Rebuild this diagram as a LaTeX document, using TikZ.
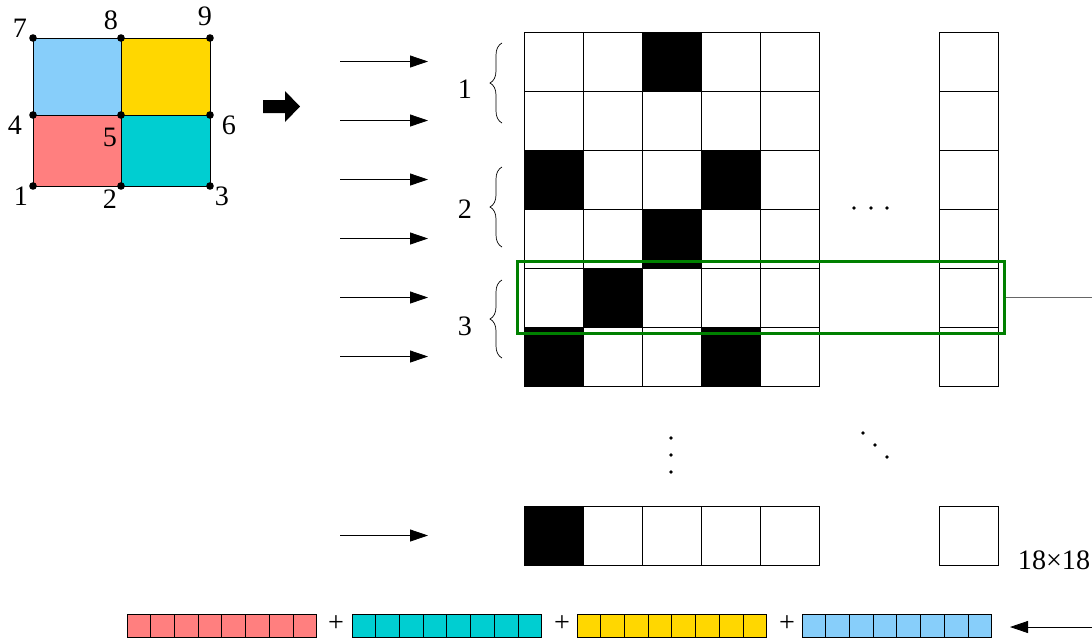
\documentclass[tikz,border=0pt]{standalone}
\usepackage{fontspec}
\setmainfont{Liberation Serif}
\usetikzlibrary{arrows.meta, positioning, fit, decorations.pathreplacing}

\definecolor{cellred}{HTML}{FF7F7F}
\definecolor{cellteal}{HTML}{00CED1}
\definecolor{cellgold}{HTML}{FFD700}
\definecolor{cellblue}{HTML}{87CEFA}

\begin{document}
\begin{tikzpicture}[
    x=0.025cm, y=-0.025cm,
    font=\fontsize{20}{23}\selectfont,
    cell/.style={draw, minimum size=1.475cm, inner sep=0pt, line width=0.6pt},
    bit/.style={draw, minimum width=0.5925cm, minimum height=0.575cm, inner sep=0pt, line width=0.5pt},
    vertex/.style={circle, fill=black, minimum size=5.4pt, inner sep=0pt},
    dotmark/.style={circle, fill=black, minimum size=2.6pt, inner sep=0pt},
    arrow/.style={-{Triangle[length=4.5mm, width=3mm]}, line width=0.6pt},
    brace/.style={decorate, decoration={brace, amplitude=3mm}, line width=0.5pt}
]
    \useasboundingbox (0,0) rectangle (1092,641);

    % mesh with four coloured elements
    \fill[cellblue] (33,38) rectangle (121,115);
    \fill[cellgold] (121,38) rectangle (210,115);
    \fill[cellred] (33,115) rectangle (121,186);
    \fill[cellteal] (121,115) rectangle (210,186);
    \draw[line width=0.6pt] (33,38) rectangle (210,186) (121,38) -- (121,186) (33,115) -- (210,115);
    \foreach \n/\px/\py/\lx/\ly in {1/33/186/21/196, 2/121/186/110/199, 3/210/186/222/196,
                                    4/33/115/15/125, 5/121/115/110/137, 6/210/115/229/125,
                                    7/33/38/20/28, 8/121/38/111/20, 9/210/38/205/16} {
        \node[vertex] (p\n) at (\px,\py) {};
        \node (l\n) at (\lx,\ly) {\n};
    }

    \fill (263,100) -- (285,100) -- (285,91) -- (300,106.5) -- (285,122) -- (285,113) -- (263,113) -- cycle;

    % 18x18 matrix
    \foreach \r in {0,...,5} {
        \foreach \c in {0,...,4}
            \node[cell] (c-\r-\c) at ({553.5+59*\c}, {61.5+59*\r}) {};
        \node[cell] (last-\r) at (968.5, {61.5+59*\r}) {};
        \coordinate (a-\r) at (340, {61.5+59*\r});
        \coordinate (b-\r) at (428, {61.5+59*\r});
        \draw[arrow] (a-\r) -- (b-\r);
    }
    \foreach \r/\c in {0/2, 2/0, 2/3, 3/2, 4/1, 5/0, 5/3}
        \node[cell, fill=black] at (c-\r-\c) {};

    \foreach \c in {0,...,4}
        \node[cell] (bot-\c) at ({553.5+59*\c}, 535.5) {};
    \node[cell, fill=black] at (bot-0) {};
    \node[cell] (bot-last) at (968.5, 535.5) {};
    \coordinate (a-bot) at (340, 535.5);
    \coordinate (b-bot) at (428, 535.5);
    \draw[arrow] (a-bot) -- (b-bot);

    % element groups
    \draw[brace] (502,123) -- (502,43);
    \draw[brace] (502,247) -- (502,167);
    \draw[brace] (502,358) -- (502,280);
    \node (g-1) at (465,89) {1};
    \node (g-2) at (465,209) {2};
    \node (g-3) at (465,326) {3};

    \foreach \x in {854,871,887} \node[dotmark] at (\x,208) {};
    \foreach \y in {438,455,472} \node[dotmark] at (671,\y) {};
    \foreach \x/\y in {863/433, 875/445, 887/457} \node[dotmark] at (\x,\y) {};

    \node (size) at (1054,560) {18×18};

    % selected row
    \node[draw=green!50!black, line width=2.2pt, inner sep=0.16cm, fit=(c-4-0)(last-4)] (sel) {};
    \coordinate (out) at (1092,297.5);
    \draw[gray!80!black, line width=0.6pt] (sel.east) -- (out);

    % flattened row
    \foreach \k/\col/\x in {0/cellred/127, 1/cellteal/352, 2/cellgold/577, 3/cellblue/802}
        \foreach \j in {0,...,7}
            \node[bit, fill=\col] (s-\k-\j) at ({\x+11.85+23.7*\j}, 625.5) {};
    \node (plus-1) at (336,624) {+};
    \node (plus-2) at (562,624) {+};
    \node (plus-3) at (787,624) {+};
    \coordinate (src) at (1092,627);
    \coordinate (dst) at (1010,627);
    \draw[arrow] (src) -- (dst);
\end{tikzpicture}
\end{document}
